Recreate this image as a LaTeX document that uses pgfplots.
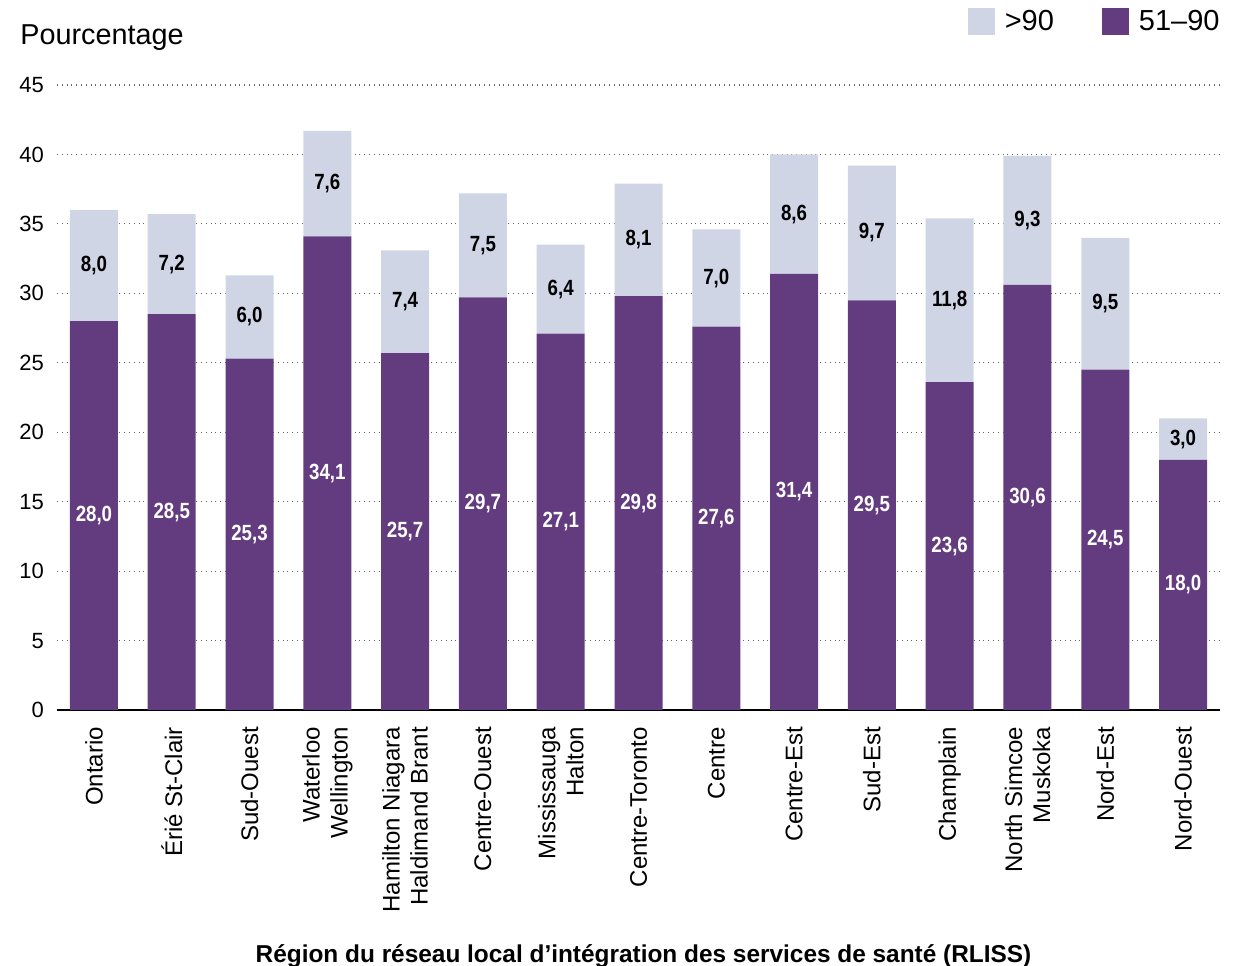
\documentclass[border=0pt]{standalone}
\usepackage{fontspec}
\setmainfont{Liberation Sans}
\newfontfamily\condfont[FakeStretch=0.85]{Liberation Sans}
\usepackage{pgfplots}
\usepackage{pgfplotstable}
\pgfplotsset{compat=1.18}
\definecolor{dark}{HTML}{633B7F}
\definecolor{light}{HTML}{D0D5E6}
\pgfplotstableread{
x lo hi
0 28.0 8.0
1 28.5 7.2
2 25.3 6.0
3 34.1 7.6
4 25.7 7.4
5 29.7 7.5
6 27.1 6.4
7 29.8 8.1
8 27.6 7.0
9 31.4 8.6
10 29.5 9.7
11 23.6 11.8
12 30.6 9.3
13 24.5 9.5
14 18.0 3.0
}\data
\begin{document}
\begin{tikzpicture}
\begin{axis}[
  name=main,
  scale only axis, width=581.5pt, height=312.5pt,
  xmin=-0.475, xmax=14.475, ymin=0, ymax=45,
  ybar stacked, bar width=24pt,
  clip=false,
  axis x line*=bottom, axis y line*=left,
  y axis line style={draw=none},
  x axis line style={line width=1pt, black},
  ytick={0,5,...,45},
  ymajorgrids, major grid style={dotted, gray!80!black, line width=0.6pt},
  xtick={0,...,14},
  xticklabels={Ontario, Érié St-Clair, Sud-Ouest, {Waterloo\\Wellington}, {Hamilton Niagara\\Haldimand Brant}, Centre-Ouest, {Mississauga\\Halton}, Centre-Toronto, Centre, Centre-Est, Sud-Est, Champlain, {North Simcoe\\Muskoka}, Nord-Est, Nord-Ouest},
  xticklabel style={yshift=-5pt, rotate=90, anchor=east, align=right, font=\fontsize{12}{14}\selectfont},
  yticklabel style={xshift=-3pt, font=\fontsize{11}{13}\selectfont},
  major tick length=0pt,
  /pgf/number format/assume math mode=true,
  legend columns=2,
  legend style={at={(1,1)}, anchor=east, xshift=5pt, yshift=31.75pt, draw=none, fill=none,
    font=\fontsize{14.5}{16}\selectfont,
    /tikz/every odd column/.append style={column sep=3pt},
    /tikz/every even column/.append style={column sep=22pt}},
  legend image code/.code={\fill[#1] (0pt,-6.75pt) rectangle (13.5pt,6.75pt);},
]
\addplot[fill=dark, draw=none, forget plot] table[x=x, y=lo]{\data};
\addplot[fill=light, draw=none, forget plot] table[x=x, y=hi]{\data};
\addlegendimage{fill=light, draw=none}
\addlegendentry{>90}
\addlegendimage{fill=dark, draw=none}
\addlegendentry{51–90}
\node[anchor=base west, font=\fontsize{14.4}{16}\selectfont, inner sep=0pt] at (rel axis cs:0,1) [xshift=-18.5pt, yshift=20pt] {Pourcentage};
\node[anchor=base, font=\bfseries\fontsize{12.2}{14}\selectfont, inner sep=0pt] at (rel axis cs:0.5,0) [xshift=2.5pt, yshift=-126pt] {Région du réseau local d’intégration des services de santé (RLISS)};
\end{axis}
\begin{axis}[
  scale only axis, width=581.5pt, height=312.5pt,
  xmin=-0.475, xmax=14.475, ymin=0, ymax=45,
  hide axis, clip=false,
  point meta=explicit,
  nodes near coords,
  nodes near coords style={anchor=center, font=\condfont\bfseries\fontsize{11}{13}\selectfont},
  /pgf/number format/.cd, fixed, fixed zerofill, precision=1, use comma, assume math mode=true,
]
\addplot[draw=none, mark=none, every node near coord/.append style={text=white}] table[x=x, y expr=\thisrow{lo}/2, meta=lo]{\data};
\addplot[draw=none, mark=none, every node near coord/.append style={text=black}] table[x=x, y expr=\thisrow{lo}+\thisrow{hi}/2, meta=hi]{\data};
\end{axis}
\pgfresetboundingbox
\path ([xshift=-28.5pt,yshift=-128pt]main.south west) rectangle ([xshift=7pt,yshift=42.5pt]main.north east);
\end{tikzpicture}
\end{document}
